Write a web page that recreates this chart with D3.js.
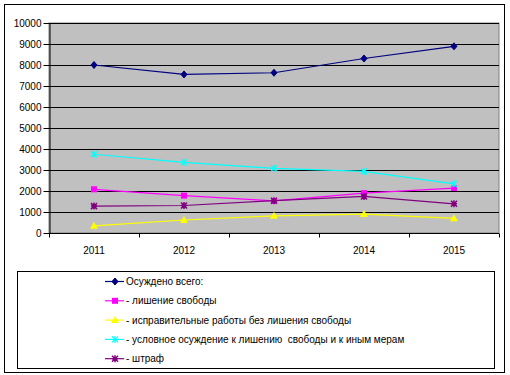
<!DOCTYPE html>
<html>
<head>
<meta charset="utf-8">
<script src="https://cdn.jsdelivr.net/npm/d3@7"></script>
<style>
  body { margin: 0; background: #fff; }
  svg { display: block; font-family: "Liberation Sans", Arial, sans-serif; }
</style>
</head>
<body>
<svg id="drawing_region"></svg>
<script>
// chart data
const years = ['2011', '2012', '2013', '2014', '2015'];
const seriesNames = [
    'Осуждено всего:',
    '- лишение свободы',
    '- исправительные работы без лишения свободы',
    '- условное осуждение к лишению  свободы и к иным мерам',
    '- штраф'
];
const total     = [8000, 7550, 7630, 8310, 8890];
const prison    = [2080, 1780, 1530, 1900, 2140];
const corrWork  = [ 340,  620,  820,  900,  700];
const suspended = [3750, 3360, 3080, 2930, 2340];
const fine      = [1280, 1310, 1540, 1740, 1390];
const yTicks = [0, 1000, 2000, 3000, 4000, 5000, 6000, 7000, 8000, 9000, 10000];

const seriesValues = [total, prison, corrWork, suspended, fine];
const colors = ['#000080', '#ff00ff', '#ffff00', '#00ffff', '#800080'];
const markers = ['diamond', 'square', 'triangle', 'cross', 'star'];

const config = {
    width: 510,
    height: 375,
    margin: {top: 23, right: 11, bottom: 142, left: 49}
};

const svg = d3.select('#drawing_region')
    .attr('width', config.width)
    .attr('height', config.height);

// outer frame
svg.append('rect')
    .attr('x', 4.5).attr('y', 4.5)
    .attr('width', 500).attr('height', 368)
    .attr('fill', '#fff')
    .attr('stroke', '#000');

const inner_width = config.width - config.margin.left - config.margin.right;
const inner_height = config.height - config.margin.top - config.margin.bottom;

const chart = svg.append('g')
    .attr('transform', `translate(${config.margin.left}, ${config.margin.top})`);

const xscale = d3.scaleBand().domain(years).range([0, inner_width]);
const yscale = d3.scaleLinear().domain([0, 10000]).range([inner_height, 0]);

// plot background
chart.append('rect')
    .attr('x', 0).attr('y', 0)
    .attr('width', inner_width).attr('height', inner_height)
    .attr('fill', '#c0c0c0')
    .attr('stroke', '#808080');

// gridlines
chart.append('g')
    .selectAll('line')
    .data(yTicks.slice(1))
    .join('line')
    .attr('x1', 0).attr('x2', inner_width)
    .attr('y1', d => Math.round(yscale(d)) + 0.5)
    .attr('y2', d => Math.round(yscale(d)) + 0.5)
    .attr('stroke', '#000');

// axes
const yaxis = d3.axisLeft(yscale).tickValues(yTicks).tickFormat(d3.format('d'))
    .tickSize(6).tickSizeOuter(0).tickPadding(2);
const yaxis_group = chart.append('g').attr('transform', 'translate(0.5,0)').call(yaxis);
yaxis_group.selectAll('text').style('font-size', '10px').attr('fill', '#000');
yaxis_group.selectAll('line, path').attr('stroke', '#000');

const xaxis_group = chart.append('g').attr('transform', `translate(0, ${inner_height + 0.5})`);
xaxis_group.append('line')
    .attr('x1', 0).attr('x2', inner_width)
    .attr('stroke', '#000');
xaxis_group.selectAll('.tk')
    .data(years.concat(['end']))
    .join('line')
    .attr('class', 'tk')
    .attr('x1', (d, i) => Math.round(i * xscale.step()) + 0.5)
    .attr('x2', (d, i) => Math.round(i * xscale.step()) + 0.5)
    .attr('y1', 0).attr('y2', 4)
    .attr('stroke', '#000');
xaxis_group.selectAll('text')
    .data(years)
    .join('text')
    .attr('x', d => xscale(d) + xscale.bandwidth() / 2)
    .attr('y', 20)
    .attr('text-anchor', 'middle')
    .style('font-size', '10px')
    .text(d => d);

// marker drawing
function drawMarker(g, type, color) {
    if (type === 'diamond') {
        g.append('path').attr('d', 'M0,-3.5L3,0L0,3.5L-3,0Z').attr('fill', color).attr('stroke', color);
    } else if (type === 'square') {
        g.append('rect').attr('x', -3).attr('y', -3).attr('width', 6).attr('height', 6).attr('fill', color);
    } else if (type === 'triangle') {
        g.append('path').attr('d', 'M0,-4L4,3L-4,3Z').attr('fill', color);
    } else if (type === 'cross') {
        g.append('path').attr('d', 'M-3,-3L3,3M3,-3L-3,3M0,-3.5V3.5').attr('stroke', color).attr('stroke-width', 1.2);
    } else {
        g.append('path').attr('d', 'M-3,-3L3,3M3,-3L-3,3M0,-3.5V3.5M-3,0H3').attr('stroke', color).attr('stroke-width', 1.5);
    }
}

const line = d3.line()
    .x((d, i) => xscale(years[i]) + xscale.bandwidth() / 2)
    .y(d => yscale(d));

seriesValues.forEach((vals, s) => {
    chart.append('path')
        .datum(vals)
        .attr('d', line)
        .attr('fill', 'none')
        .attr('stroke', colors[s])
        .attr('stroke-width', 1.2);
    vals.forEach((v, i) => {
        const g = chart.append('g')
            .attr('transform', `translate(${xscale(years[i]) + xscale.bandwidth() / 2}, ${yscale(v)})`);
        drawMarker(g, markers[s], colors[s]);
    });
});

// legend
const legend = svg.append('g');
legend.append('rect')
    .attr('x', 17.5).attr('y', 271.5)
    .attr('width', 477).attr('height', 97)
    .attr('fill', '#fff')
    .attr('stroke', '#000');

const item = legend.selectAll('.item')
    .data(seriesNames)
    .join('g')
    .attr('class', 'item')
    .attr('transform', (d, i) => `translate(105, ${281.5 + i * 19.3})`);
item.append('line')
    .attr('x1', 0).attr('x2', 19)
    .attr('stroke', (d, i) => colors[i])
    .attr('stroke-width', 1.2);
item.each(function(d, i) {
    const g = d3.select(this).append('g').attr('transform', 'translate(10,0)');
    drawMarker(g, markers[i], colors[i]);
});
item.append('text')
    .attr('x', 21)
    .attr('y', 3.5)
    .style('font-size', '10px')
    .style('white-space', 'pre')
    .text(d => d);
</script>
</body>
</html>
